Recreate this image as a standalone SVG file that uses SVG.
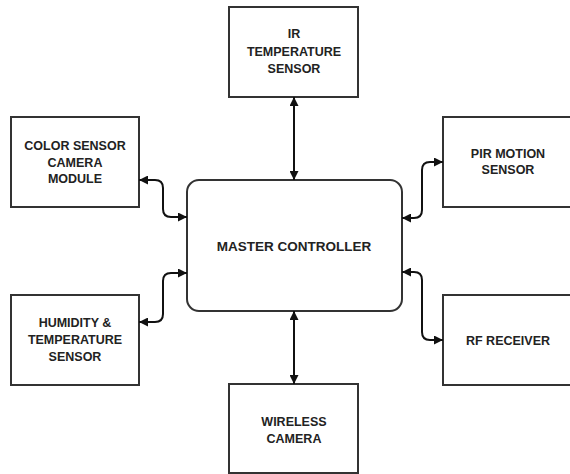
<svg xmlns="http://www.w3.org/2000/svg" width="570" height="474" viewBox="0 0 570 474">
<style>
.box{fill:#fff;stroke:#333;stroke-width:2}
.t{font-family:"Liberation Sans",Arial,sans-serif;font-weight:bold;font-size:12.5px;fill:#222;text-anchor:middle}
.c{fill:none;stroke:#111;stroke-width:2;marker-start:url(#ah);marker-end:url(#ah)}
</style>
<defs>
<marker id="ah" viewBox="0 0 10 10" refX="10" refY="5" markerUnits="userSpaceOnUse" markerWidth="9" markerHeight="9" orient="auto-start-reverse">
<path d="M0,0 L10,5 L0,10 z" fill="#111"/>
</marker>
</defs>
<rect width="570" height="474" fill="#fff"/>
<g id="ir">
<rect class="box" x="229" y="7" width="129" height="90"/>
<text class="t" x="294" y="38">IR</text>
<text class="t" x="294" y="56">TEMPERATURE</text>
<text class="t" x="294" y="73">SENSOR</text>
</g>
<g id="color">
<rect class="box" x="11" y="117" width="128" height="90"/>
<text class="t" x="75" y="150">COLOR SENSOR</text>
<text class="t" x="75" y="166.5">CAMERA</text>
<text class="t" x="75" y="183">MODULE</text>
</g>
<g id="pir">
<rect class="box" x="443" y="117" width="130" height="90"/>
<text class="t" x="508" y="157.5">PIR MOTION</text>
<text class="t" x="508" y="174">SENSOR</text>
</g>
<g id="master">
<rect class="box" x="187" y="180" width="215" height="131" rx="12"/>
<text class="t" x="294" y="251" style="font-size:13.5px">MASTER CONTROLLER</text>
</g>
<g id="humidity">
<rect class="box" x="11" y="295" width="128" height="90"/>
<text class="t" x="75" y="327">HUMIDITY &amp;</text>
<text class="t" x="75" y="344">TEMPERATURE</text>
<text class="t" x="75" y="361">SENSOR</text>
</g>
<g id="rf">
<rect class="box" x="443" y="295" width="130" height="90"/>
<text class="t" x="508" y="344.5">RF RECEIVER</text>
</g>
<g id="wireless">
<rect class="box" x="229" y="384" width="129" height="89"/>
<text class="t" x="294" y="426">WIRELESS</text>
<text class="t" x="294" y="443">CAMERA</text>
</g>
<g id="connectors">
<path class="c" d="M294,97 V180"/>
<path class="c" d="M294,311 V384"/>
<path class="c" d="M139,180 H155 Q163,180 163,188 V209 Q163,217 171,217 H187"/>
<path class="c" d="M187,273 H171 Q163,273 163,281 V314 Q163,322 155,322 H139"/>
<path class="c" d="M402,218 H414 Q422,218 422,210 V170 Q422,162 430,162 H443"/>
<path class="c" d="M402,272 H414 Q422,272 422,280 V332 Q422,340 430,340 H443"/>
</g>
</svg>
